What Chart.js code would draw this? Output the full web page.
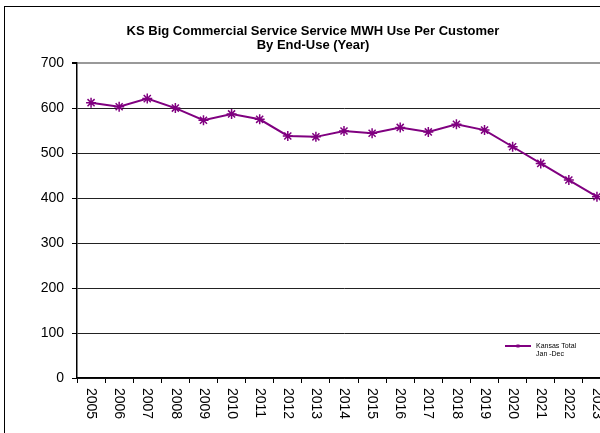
<!DOCTYPE html>
<html>
<head>
<meta charset="utf-8">
<script src="https://cdn.jsdelivr.net/npm/chart.js@4/dist/chart.umd.min.js"></script>
<style>
  html, body { margin: 0; padding: 0; background: #fff; overflow: hidden; }
  canvas { display: block; }
</style>
</head>
<body>
<canvas id="useChart" width="626" height="433"></canvas>
<script>
const years = ["2005", "2006", "2007", "2008", "2009", "2010", "2011", "2012", "2013", "2014",
               "2015", "2016", "2017", "2018", "2019", "2020", "2021", "2022", "2023"];
const mwhPerCustomer = [612, 603, 621, 600, 573, 587, 575, 538, 536, 549,
                        544, 557, 547, 564, 551, 514, 477, 440, 403];
const titleLines = ["KS Big Commercial Service Service MWH Use Per Customer", "By End-Use (Year)"];
const legendLines = ["Kansas Total", "Jan -Dec"];

const PURPLE = "#800080";
const FONT = "Arial, 'Liberation Sans', sans-serif";

// outer frame of the chart object
const framePlugin = {
    id: "frame",
    beforeDraw(chart) {
        const c = chart.ctx;
        c.save();
        c.strokeStyle = "#000";
        c.lineWidth = 1;
        c.strokeRect(4.5, 6.5, 1000, 1000);
        c.restore();
    }
};

// year labels read top-to-bottom (rotated clockwise), chart.js only rotates the other way
const yearLabels = {
    id: "yearLabels",
    afterDraw(chart) {
        const scale = chart.scales.x;
        const c = chart.ctx;
        c.save();
        c.fillStyle = "#000";
        c.font = "14px " + FONT;
        c.textAlign = "left";
        c.textBaseline = "middle";
        scale.ticks.forEach((t, i) => {
            const x = scale.getPixelForTick(i);
            c.save();
            c.translate(x, scale.top + 10);
            c.rotate(Math.PI / 2);
            c.fillText(scale.getLabelForValue(t.value), 0, 0);
            c.restore();
        });
        c.restore();
    }
};

// small legend inside the plot area
const insideLegend = {
    id: "insideLegend",
    afterDraw(chart) {
        const c = chart.ctx;
        const ds = chart.data.datasets[0];
        const x0 = 505, x1 = 531, y = 346;
        c.save();
        c.strokeStyle = ds.borderColor;
        c.lineWidth = 2;
        c.beginPath();
        c.moveTo(x0, y);
        c.lineTo(x1, y);
        c.stroke();
        c.fillStyle = ds.borderColor;
        c.fillRect((x0 + x1) / 2 - 1.5, y - 1.5, 3, 3);
        c.fillStyle = "#000";
        c.font = "7px " + FONT;
        c.textAlign = "left";
        c.textBaseline = "middle";
        legendLines.forEach((line, i) => c.fillText(line, 536, y + i * 8));
        c.restore();
    }
};

const ctx = document.getElementById("useChart").getContext("2d");
const chart = new Chart(ctx, {
    type: "line",
    data: {
        labels: years,
        datasets: [{
            label: legendLines.join(" "),
            data: mwhPerCustomer,
            borderColor: PURPLE,
            backgroundColor: PURPLE,
            borderWidth: 2,
            tension: 0,
            pointStyle: "star",
            pointRadius: 5,
            pointBorderWidth: 1.5,
            pointBorderColor: PURPLE
        }]
    },
    options: {
        responsive: false,
        animation: false,
        devicePixelRatio: 1,
        layout: { padding: { left: 0, right: 0, top: 0, bottom: 0 } },
        plugins: {
            legend: { display: false },
            tooltip: { enabled: false },
            title: {
                display: true,
                text: titleLines,
                color: "#000",
                font: { family: FONT, size: 13, weight: "bold", lineHeight: 1.08 },
                padding: { top: 24, bottom: 11 }
            }
        },
        scales: {
            x: {
                offset: true,
                afterFit(scale) { scale.height = 55; },
                ticks: { display: false },
                grid: {
                    display: true,
                    drawOnChartArea: false,
                    drawTicks: true,
                    tickLength: 5,
                    color: "#000",
                    offset: true
                },
                border: { color: "#000", width: 1.5 }
            },
            y: {
                min: 0,
                max: 700,
                afterFit(scale) { scale.width = 77; },
                ticks: {
                    stepSize: 100,
                    color: "#000",
                    padding: 8,
                    font: { family: FONT, size: 14 }
                },
                grid: {
                    tickLength: 5,
                    color: (c) => c.tick && c.tick.value === 700 ? "#999" : "#222",
                    lineWidth: (c) => c.tick && c.tick.value === 700 ? 2 : 1,
                    tickColor: "#000"
                },
                border: { color: "#000", width: 1.5 }
            },
            // empty strip on the right so the title centres on the whole frame
            pad: {
                type: "linear",
                position: "right",
                display: true,
                afterFit(scale) { scale.width = 15; },
                ticks: { display: false },
                grid: { display: false },
                border: { display: false }
            }
        }
    },
    plugins: [framePlugin, yearLabels, insideLegend]
});
</script>
</body>
</html>
